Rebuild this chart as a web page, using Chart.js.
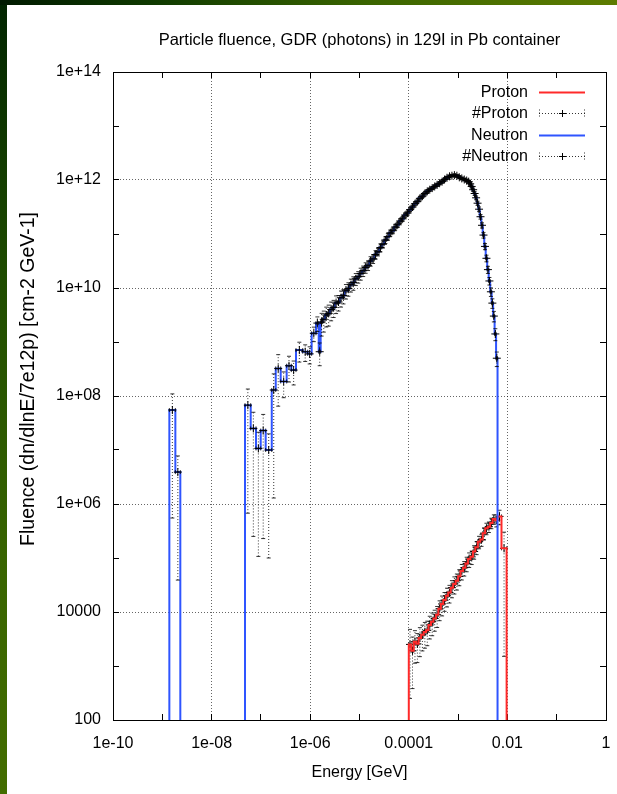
<!DOCTYPE html>
<html>
<head>
<meta charset="utf-8">
<title>Particle fluence, GDR (photons) in 129I in Pb container</title>
<script src="https://cdn.jsdelivr.net/npm/chart.js@4.4.1/dist/chart.umd.min.js"></script>
<style>
  html, body { margin: 0; padding: 0; background: #fff; }
  #wrap { position: relative; width: 617px; height: 794px; overflow: hidden; background: #fff; }
  #plot { position: absolute; left: 0; top: 0; }
  #edgeLeft { position: absolute; left: 0; top: 0; width: 7px; height: 794px;
    background: linear-gradient(to bottom, #002400 0%, #1f4c00 35%, #386400 70%, #436d00 100%); }
  #edgeTop { position: absolute; left: 0; top: 0; width: 617px; height: 5px;
    background: linear-gradient(to right, #001a00 0%, #0f3a00 25%, #3b6500 60%, #5d7c00 100%); }
</style>
</head>
<body>
<div id="wrap">
  <canvas id="plot" width="617" height="794"></canvas>
  <div id="edgeLeft"></div>
  <div id="edgeTop"></div>
</div>
<script>
// ---- axes ----
const xDecades = [1e-10, 1e-9, 1e-8, 1e-7, 1e-6, 1e-5, 1e-4, 1e-3, 1e-2, 1e-1, 1];
const xTickValues = [1e-10, 1e-8, 1e-6, 1e-4, 1e-2, 1];
const xTickLabels = ['1e-10', '1e-08', '1e-06', '0.0001', '0.01', '1'];
const yDecades = [1e2, 1e3, 1e4, 1e5, 1e6, 1e7, 1e8, 1e9, 1e10, 1e11, 1e12, 1e13, 1e14];
const yTickValues = [1e2, 1e4, 1e6, 1e8, 1e10, 1e12, 1e14];
const yTickLabels = ['100', '10000', '1e+06', '1e+08', '1e+10', '1e+12', '1e+14'];
const chartTitle = 'Particle fluence, GDR (photons) in 129I in Pb container';
const xTitle = 'Energy [GeV]';
const yTitle = 'Fluence (dn/dlnE/7e12p) [cm-2 GeV-1]';

// ---- neutron spectrum: bin low edges [GeV] (+ last upper edge), fluence, relative error ----
const neutronEdges = [
  1.39e-9, 1.84e-9, 2.32e-9,
  4.76e-8, 6.21e-8, 7.96e-8, 9.91e-8, 1.25e-7, 1.66e-7, 2.00e-7, 2.52e-7,
  3.33e-7, 4.14e-7, 5.15e-7, 7.05e-7, 8.89e-7, 1.07e-6, 1.31e-6, 1.49e-6,
  1.63e-6,
  1.78e-6, 2.00e-6, 2.24e-6, 2.51e-6, 2.82e-6, 3.16e-6, 3.55e-6, 3.98e-6, 4.47e-6, 5.01e-6,
  5.62e-6, 6.31e-6, 7.08e-6, 7.94e-6, 8.91e-6,
  1.00e-5, 1.12e-5, 1.26e-5, 1.41e-5, 1.58e-5, 1.78e-5, 2.00e-5, 2.24e-5, 2.51e-5, 2.82e-5,
  3.16e-5, 3.55e-5, 3.98e-5, 4.47e-5, 5.01e-5, 5.62e-5, 6.31e-5, 7.08e-5, 7.94e-5, 8.91e-5,
  1.00e-4, 1.12e-4, 1.26e-4, 1.41e-4, 1.58e-4, 1.78e-4, 2.00e-4, 2.24e-4, 2.51e-4, 2.82e-4,
  3.16e-4, 3.55e-4, 3.98e-4, 4.47e-4, 5.01e-4, 5.62e-4, 6.31e-4, 7.08e-4, 7.94e-4, 8.91e-4,
  1.00e-3, 1.12e-3, 1.26e-3, 1.41e-3, 1.58e-3,
  1.70e-3, 1.82e-3, 1.95e-3, 2.09e-3, 2.24e-3, 2.40e-3, 2.57e-3, 2.75e-3, 2.95e-3, 3.16e-3,
  3.39e-3, 3.63e-3, 3.89e-3, 4.17e-3, 4.47e-3, 4.79e-3, 5.13e-3, 5.50e-3, 5.89e-3, 6.31e-3
];
const neutronFluence = [
  5.5e7, 3.9e6, 0,
  6.76e7, 2.51e7, 1.07e7, 2.29e7, 1.00e7, 1.29e8, 3.24e8, 1.86e8,
  3.63e8, 3.02e8, 7.08e8, 6.61e8, 6.03e8, 1.45e9, 2.24e9, 6.61e8,
  2.34e9,
  2.63e9, 3.16e9, 3.39e9, 3.98e9, 4.37e9, 5.25e9, 5.50e9, 6.61e9, 7.24e9, 8.91e9,
  9.77e9, 1.15e10, 1.26e10, 1.48e10, 1.62e10,
  1.86e10, 2.09e10, 2.40e10, 2.63e10, 3.16e10, 3.47e10, 4.17e10, 4.68e10, 5.62e10, 6.46e10,
  7.76e10, 8.91e10, 1.05e11, 1.15e11, 1.35e11, 1.48e11, 1.74e11, 1.91e11, 2.24e11, 2.45e11,
  2.82e11, 3.16e11, 3.63e11, 3.98e11, 4.57e11, 5.01e11, 5.62e11, 6.17e11, 6.61e11, 7.08e11,
  7.59e11, 8.13e11, 8.71e11, 9.33e11, 1.02e12, 1.10e12, 1.17e12, 1.20e12, 1.23e12, 1.20e12,
  1.12e12, 1.07e12, 1.02e12, 9.77e11,
  9.33e11, 8.51e11, 7.59e11, 6.61e11, 5.62e11, 4.68e11, 3.72e11, 2.88e11, 2.09e11, 1.45e11,
  9.55e10, 5.89e10, 3.55e10, 2.19e10, 1.35e10, 8.51e9, 5.25e9, 3.02e9, 1.41e9, 5.01e8
];
const neutronRelErr = [
  0.99, 0.99, 0,
  0.99, 0.99, 0.99, 0.99, 0.99, 0.99, 0.8, 0.5,
  0.5, 0.47, 0.4, 0.34, 0.35, 0.3, 0.3, 0.45,
  0.45, 0.42, 0.4, 0.42, 0.38, 0.35, 0.36, 0.32, 0.33, 0.3,
  0.3, 0.28, 0.27, 0.28, 0.25, 0.24, 0.25, 0.22, 0.22, 0.2,
  0.2, 0.18, 0.18, 0.16, 0.17, 0.15, 0.14, 0.14, 0.13, 0.12,
  0.12, 0.11, 0.1, 0.1, 0.09, 0.09, 0.08, 0.08, 0.08, 0.07,
  0.07, 0.06, 0.06, 0.06, 0.05, 0.05, 0.05, 0.05, 0.05, 0.05,
  0.05, 0.05, 0.05, 0.05, 0.05, 0.05, 0.05, 0.05, 0.05, 0.06,
  0.06, 0.06, 0.07, 0.07, 0.08, 0.08, 0.09, 0.1, 0.1, 0.11,
  0.12, 0.13, 0.14, 0.15, 0.16, 0.18, 0.2, 0.22, 0.25, 0.3
];

// ---- proton spectrum ----
const protonEdges = [
  1.00e-4, 1.12e-4, 1.26e-4, 1.41e-4, 1.58e-4, 1.78e-4, 2.00e-4, 2.24e-4, 2.51e-4, 2.82e-4,
  3.16e-4, 3.55e-4, 3.98e-4, 4.47e-4, 5.01e-4, 5.62e-4, 6.31e-4, 7.08e-4, 7.94e-4, 8.91e-4,
  1.00e-3, 1.12e-3, 1.26e-3, 1.41e-3, 1.58e-3, 1.78e-3, 2.00e-3, 2.24e-3, 2.51e-3, 2.82e-3,
  3.16e-3, 3.55e-3, 3.98e-3, 4.47e-3, 5.01e-3, 5.62e-3, 6.31e-3, 7.59e-3, 9.64e-3
];
const protonFluence = [
  2.51e3, 1.91e3, 2.82e3, 2.57e3, 3.31e3, 3.80e3, 4.27e3, 4.57e3, 5.75e3, 6.61e3,
  7.59e3, 8.91e3, 1.15e4, 1.41e4, 1.66e4, 2.00e4, 2.29e4, 2.82e4, 3.31e4, 3.80e4,
  4.57e4, 5.75e4, 6.61e4, 7.94e4, 9.55e4, 1.05e5, 1.32e5, 1.58e5, 2.00e5, 2.19e5,
  2.88e5, 3.55e5, 3.80e5, 4.47e5, 5.25e5, 5.01e5, 5.89e5, 1.51e5
];
const protonRelErr = [
  0.9, 0.8, 0.6, 0.55, 0.55, 0.5, 0.5, 0.48, 0.45, 0.45,
  0.42, 0.42, 0.4, 0.4, 0.38, 0.38, 0.36, 0.35, 0.35, 0.33,
  0.33, 0.32, 0.3, 0.3, 0.3, 0.28, 0.28, 0.27, 0.26, 0.25,
  0.25, 0.24, 0.22, 0.22, 0.2, 0.25, 0.3, 0.99
];

// ---- styling ----
const PROTON_COLOR = '#ff2a2a';
const NEUTRON_COLOR = '#2f55ff';
const ERR_COLOR = 'rgba(0,0,0,0.8)';
const GRID_COLOR = 'rgba(0,0,0,0.6)';
const FONT_FAMILY = "'Liberation Sans', Arial, Helvetica, sans-serif";
const axisFont = { family: FONT_FAMILY, size: 16, weight: 'normal', lineHeight: 1.2 };
const titleFont = { family: FONT_FAMILY, size: 16.5, weight: 'normal', lineHeight: 1.2 };
const FLOOR = 1; // below the y minimum, so vertical drops run off the bottom frame

function sameDecade(a, b) { return Math.abs(Math.log10(a) - Math.log10(b)) < 1e-6; }
function tickLabel(value, values, labels) {
  const i = values.findIndex(t => sameDecade(t, value));
  return i >= 0 ? labels[i] : '';
}

// Histogram outline: one point per bin at its low edge, stepped so the value holds to the next edge.
function histogramPoints(edges, values) {
  const pts = [];
  let open = false;
  for (let i = 0; i < values.length; i++) {
    const v = values[i];
    if (v > 0) {
      if (!open) { pts.push({ x: edges[i], y: FLOOR }); open = true; }
      pts.push({ x: edges[i], y: v });
    } else if (open) {
      pts.push({ x: edges[i], y: FLOOR });
      pts.push({ x: edges[i], y: null });
      open = false;
    }
  }
  if (open) pts.push({ x: edges[values.length], y: FLOOR });
  return pts;
}

// Error bars: horizontal bin span + vertical error, with caps and a cross at the bin centre.
function errorBars(edges, values, rel) {
  const bars = [], marks = [], caps = [], capRot = [];
  for (let i = 0; i < values.length; i++) {
    const v = values[i];
    if (!(v > 0)) continue;
    const lo = edges[i], hi = edges[i + 1], c = Math.sqrt(lo * hi);
    const dy = v * rel[i];
    const yl = v - dy > 0 ? v - dy : FLOOR;
    const yh = v + dy;
    bars.push({ x: lo, y: v }, { x: hi, y: v }, { x: hi, y: null },
              { x: c, y: yl }, { x: c, y: yh }, { x: c, y: null });
    marks.push({ x: c, y: v });
    caps.push({ x: c, y: yl }, { x: c, y: yh }, { x: lo, y: v }, { x: hi, y: v });
    capRot.push(0, 0, 90, 90);
  }
  return { bars, marks, caps, capRot };
}

function seriesDatasets(name, color, edges, values, rel, lineOrder, errOrder) {
  const e = errorBars(edges, values, rel);
  const common = { pointRadius: 0, pointHoverRadius: 0, fill: false, spanGaps: false, tension: 0 };
  return [
    Object.assign({}, common, {
      label: name, legendKind: 'line', data: histogramPoints(edges, values),
      borderColor: color, borderWidth: 2, stepped: 'before', order: lineOrder
    }),
    Object.assign({}, common, {
      label: '#' + name, legendKind: 'errorbar', data: e.bars,
      borderColor: ERR_COLOR, borderWidth: 1, borderDash: [1, 2], order: errOrder
    }),
    Object.assign({}, common, {
      label: '#' + name + ' centres', data: e.marks, showLine: false,
      pointStyle: 'cross', pointRadius: 4, pointBorderColor: '#000',
      pointBorderWidth: 1, order: errOrder
    }),
    Object.assign({}, common, {
      label: '#' + name + ' caps', data: e.caps, showLine: false,
      pointStyle: 'line', pointRadius: 2, pointRotation: e.capRot,
      pointBorderColor: ERR_COLOR, pointBorderWidth: 1, order: errOrder
    })
  ];
}

// Rotated y-axis title, placed a little above the middle of the frame
const yTitlePlugin = {
  id: 'yTitle',
  afterDraw(chart) {
    const { ctx, chartArea: a } = chart;
    ctx.save();
    ctx.translate(29, (a.top + a.bottom) / 2 - 17);
    ctx.rotate(-Math.PI / 2);
    ctx.font = '19.5px ' + FONT_FAMILY;
    ctx.fillStyle = '#000';
    ctx.textAlign = 'center';
    ctx.textBaseline = 'middle';
    ctx.fillText(yTitle, 0, 0);
    ctx.restore();
  }
};

// gnuplot-style key drawn inside the frame, text right-aligned before the sample
const insideLegend = {
  id: 'insideLegend',
  afterDraw(chart) {
    const { ctx, chartArea: a } = chart;
    const entries = chart.data.datasets.filter(d => d.legendKind);
    const order = ['Proton', '#Proton', 'Neutron', '#Neutron'];
    entries.sort((p, q) => order.indexOf(p.label) - order.indexOf(q.label));
    const textRight = a.right - 78, x0 = a.right - 67, x1 = a.right - 21;
    ctx.save();
    ctx.font = '16px ' + FONT_FAMILY;
    ctx.textAlign = 'right';
    ctx.textBaseline = 'middle';
    entries.forEach((d, i) => {
      const y = Math.round(a.top + 19.7 + i * 21.5) + 0.5;
      ctx.fillStyle = '#000';
      ctx.fillText(d.label, textRight, y);
      if (d.legendKind === 'line') {
        ctx.strokeStyle = d.borderColor;
        ctx.lineWidth = 2;
        ctx.setLineDash([]);
        ctx.beginPath(); ctx.moveTo(x0, y); ctx.lineTo(x1, y); ctx.stroke();
      } else {
        ctx.strokeStyle = ERR_COLOR;
        ctx.lineWidth = 1;
        ctx.setLineDash([1, 2]);
        ctx.beginPath();
        ctx.moveTo(x0, y); ctx.lineTo(x1, y);
        ctx.moveTo(x0 + 0.5, y - 4); ctx.lineTo(x0 + 0.5, y + 4);
        ctx.moveTo(x1 - 0.5, y - 4); ctx.lineTo(x1 - 0.5, y + 4);
        ctx.stroke();
        ctx.setLineDash([]);
        const cx = Math.round((x0 + x1) / 2) + 0.5;
        ctx.strokeStyle = '#000';
        ctx.beginPath();
        ctx.moveTo(cx - 3.5, y); ctx.lineTo(cx + 3.5, y);
        ctx.moveTo(cx, y - 3.5); ctx.lineTo(cx, y + 3.5);
        ctx.stroke();
      }
    });
    ctx.restore();
  }
};

function logAxis(position, decades, values, labels, size, showLabels, extra) {
  const horizontal = position === 'top' || position === 'bottom';
  return Object.assign({
    type: 'logarithmic',
    position,
    min: decades[0],
    max: decades[decades.length - 1],
    afterBuildTicks: s => { s.ticks = decades.map(v => ({ value: v })); },
    afterFit: s => {
      if (horizontal) { s.height = size; s.paddingLeft = 0; s.paddingRight = 0; }
      else { s.width = size; s.paddingTop = 0; s.paddingBottom = 0; }
    },
    ticks: {
      display: showLabels, autoSkip: false, maxRotation: 0, minRotation: 0,
      color: '#000', font: axisFont,
      callback: v => tickLabel(v, values, labels)
    },
    grid: {
      drawOnChartArea: showLabels,
      color: c => (c.tick && tickLabel(c.tick.value, values, labels)) ? GRID_COLOR : 'rgba(0,0,0,0)',
      lineWidth: 1, tickColor: '#000', tickWidth: 1, tickLength: -6
    },
    border: { display: true, color: '#000', width: 1, dash: [1, 2] }
  }, extra || {});
}

const xAxis = logAxis('bottom', xDecades, xTickValues, xTickLabels, 74, true, {
  title: { display: true, text: xTitle, color: '#000', font: axisFont, padding: { top: 0, bottom: 12 } }
});
xAxis.ticks.padding = 20;
const yAxis = logAxis('left', yDecades, yTickValues, yTickLabels, 113, true);
yAxis.ticks.padding = 18;
const x2Axis = logAxis('top', xDecades, xTickValues, xTickLabels, 10, false);
const y2Axis = logAxis('right', yDecades, yTickValues, yTickLabels, 0, false);

// drawing order: lower "order" is painted later (on top)
new Chart(document.getElementById('plot'), {
  type: 'line',
  data: {
    datasets: [
      ...seriesDatasets('Neutron', NEUTRON_COLOR, neutronEdges, neutronFluence, neutronRelErr, 1, 0),
      ...seriesDatasets('Proton', PROTON_COLOR, protonEdges, protonFluence, protonRelErr, 2, 3)
    ]
  },
  options: {
    responsive: false,
    animation: false,
    devicePixelRatio: 1,
    events: [],
    layout: { padding: { left: 0, right: 11, top: 0, bottom: 0 } },
    plugins: {
      legend: { display: false },
      tooltip: { enabled: false },
      title: {
        display: true, fullSize: false, text: chartTitle,
        color: '#000', font: titleFont, padding: { top: 30.2, bottom: 12.0 }
      }
    },
    scales: { x: xAxis, y: yAxis, x2: x2Axis, y2: y2Axis }
  },
  plugins: [yTitlePlugin, insideLegend]
});
</script>
</body>
</html>
